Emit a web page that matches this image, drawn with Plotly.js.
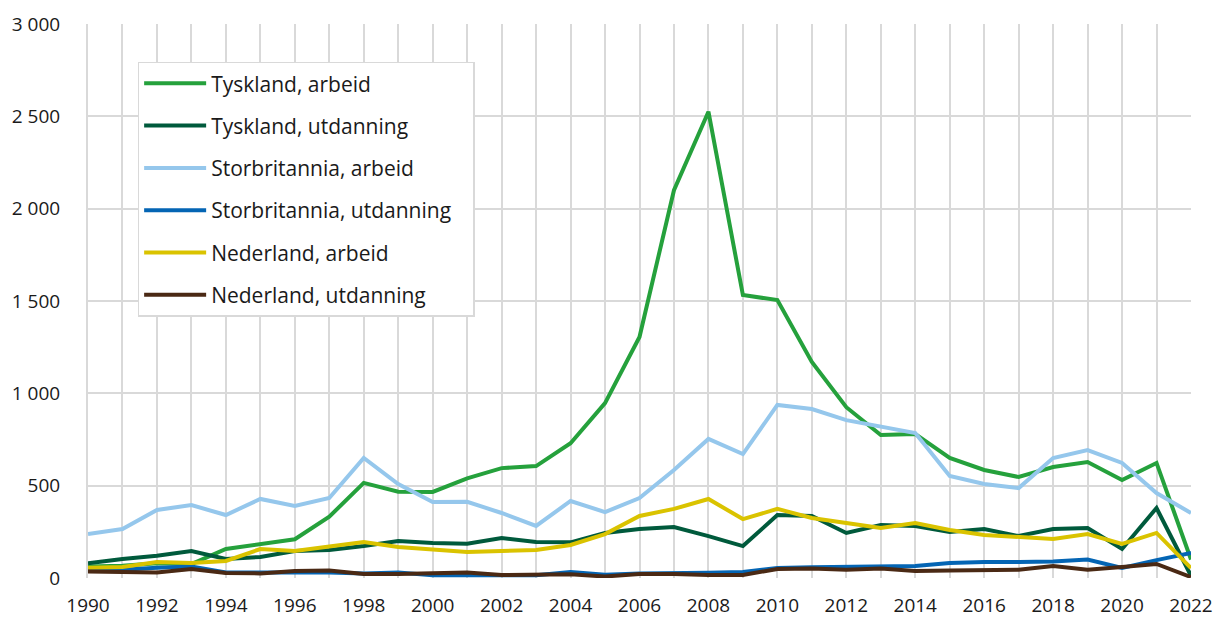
<!DOCTYPE html>
<html>
<head>
<meta charset="utf-8">
<script src="https://cdn.plot.ly/plotly-3.0.1.min.js"></script>
<style>html,body{margin:0;padding:0;background:#fff;}#chart{width:1217px;height:619px;}</style>
</head>
<body>
<div id="chart"></div>
<script>
const years = [1990,1991,1992,1993,1994,1995,1996,1997,1998,1999,2000,2001,2002,2003,2004,2005,2006,2007,2008,2009,2010,2011,2012,2013,2014,2015,2016,2017,2018,2019,2020,2021,2022];
const tysklandArbeid = [62,66,80,75,157,184,210,332,515,467,466,540,595,606,730,947,1305,2100,2525,1532,1505,1170,925,774,780,650,585,547,601,628,531,623,100];
const tysklandUtdanning = [80,103,120,146,103,114,146,152,173,200,190,185,217,195,193,244,265,276,227,173,341,336,244,287,282,249,265,227,265,271,157,379,12];
const storbritanniaArbeid = [238,265,368,395,341,428,390,433,650,509,411,413,352,282,417,357,433,585,753,671,937,915,855,818,785,552,509,487,650,693,623,460,352];
const storbritanniaUtdanning = [45,45,55,62,30,28,30,30,25,30,15,15,15,15,33,18,25,25,28,32,54,58,60,58,65,81,87,87,90,100,54,97,135];
const nederlandArbeid = [55,60,87,81,92,157,146,168,195,168,152,141,146,152,179,238,336,374,428,319,374,325,298,271,298,260,233,222,211,238,184,244,54];
const nederlandUtdanning = [35,35,30,49,27,25,38,40,22,22,25,30,16,16,20,8,22,22,16,16,49,52,45,52,38,40,40,45,65,45,60,76,5];
const seriesNames = ["Tyskland, arbeid","Tyskland, utdanning","Storbritannia, arbeid","Storbritannia, utdanning\u00a0\u00a0\u00a0","Nederland, arbeid","Nederland, utdanning"];
const seriesColors = ["#25a13c","#005a3c","#95c7ec","#0465b4","#dac300","#4a2914"];
const xTickVals = [1990,1992,1994,1996,1998,2000,2002,2004,2006,2008,2010,2012,2014,2016,2018,2020,2022];
const yTickVals = [0,500,1000,1500,2000,2500,3000];

const allSeries = [tysklandArbeid,tysklandUtdanning,storbritanniaArbeid,storbritanniaUtdanning,nederlandArbeid,nederlandUtdanning];
const traces = allSeries.map((vals,i)=>({
  x: years, y: vals, type:'scatter', mode:'lines', name: seriesNames[i], legendgroup:'g'+i,
  line:{color: seriesColors[i], width:4}
}));

const grid = '#d9d9d9';
const layout = {
  width:1217, height:619,
  margin:{l:88, r:26, t:24, b:41},
  paper_bgcolor:'#fff', plot_bgcolor:'#fff',
  separators:', ',
  font:{family:'"Open Sans", sans-serif', size:19, color:'#1a1a1a'},
  showlegend:true,
  legend:{x:0.045, y:0.932, xanchor:'left', yanchor:'top', bgcolor:'#fff', bordercolor:'#d9d9d9', borderwidth:1.5,
    font:{size:21, color:'#1a1a1a'}, tracegroupgap:12, itemwidth:62},
  xaxis:{range:[1990,2022], tickvals:xTickVals, showgrid:true, gridcolor:grid, gridwidth:2,
    minor:{dtick:1, tick0:1990, showgrid:true, gridcolor:grid, gridwidth:2},
    zeroline:false, showline:false, ticks:'', ticklabelstandoff:14, fixedrange:true},
  yaxis:{range:[0,3000], tickvals:yTickVals, tickformat:',', showgrid:true, gridcolor:grid, gridwidth:2,
    zeroline:false, showline:true, linecolor:grid, linewidth:2, ticks:'', ticklabelstandoff:22, fixedrange:true}
};
Plotly.newPlot('chart', traces, layout, {staticPlot:true, displayModeBar:false});
</script>
</body>
</html>
